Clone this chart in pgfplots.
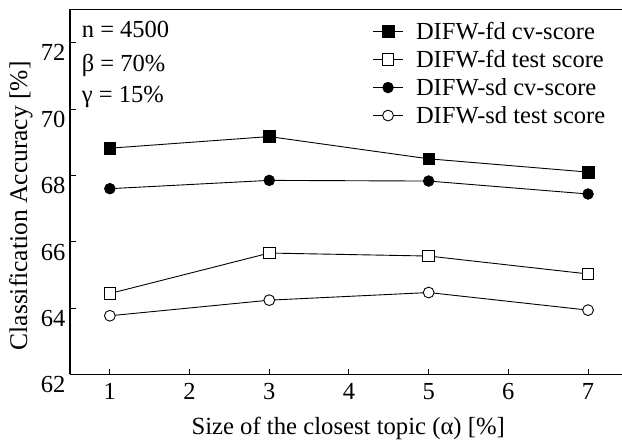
\documentclass[border=0pt]{standalone}
\usepackage{pgfplots}
\pgfplotsset{compat=1.18}
\usepackage{fontspec}
\setmainfont{Liberation Serif}
\begin{document}
\begin{tikzpicture}
\begin{axis}[
  scale only axis,
  width=552pt, height=365pt,
  xmin=0.5, xmax=7.426, ymin=62, ymax=73,
  axis lines=left,
  axis line style={-, line width=1.3pt},
  xtick={1,2,3,4,5,6,7},
  ytick={62,64,66,68,70,72},
  tick align=inside,
  major tick length=6pt,
  tick style={line width=1pt, black},
  ticklabel style={font=\fontsize{24.5}{28}\selectfont},
  /pgf/number format/assume math mode=true,
  yticklabel style={anchor=north east, xshift=-1pt, yshift=1.5pt},
  xticklabel style={yshift=-5pt},
  xlabel={Size of the closest topic (α) [\%]},
  ylabel={Classification Accuracy [\%]},
  xlabel style={font=\fontsize{24.7}{28}\selectfont, at={(axis description cs:0.504,-0.1466)}, anchor=center},
  ylabel style={font=\fontsize{25.5}{28}\selectfont, at={(axis description cs:-0.0888,0.462)}, anchor=center},
  legend style={draw=none, fill=none, font=\fontsize{24.5}{26}\selectfont,
    at={(axis description cs:0.546,0.975)}, anchor=north west,
    row sep=5.5pt, inner sep=1pt},
  legend cell align=left,
  legend image code/.code={\draw[line width=0.9pt,#1] (0pt,0pt) -- (30pt,0pt); \draw[#1, mark repeat=1] plot coordinates {(15pt,0pt)}; \path[draw=none, fill=none] (0pt,0pt) -- (41pt,0pt);},
  every axis plot/.append style={black, line width=0.9pt},
  clip=false,
]
\addplot[mark=square*, mark size=5.8pt, mark options={fill=black, line width=0.6pt}] coordinates {(1,68.82) (3,69.17) (5,68.50) (7,68.10)};
\addlegendentry{DIFW-fd cv-score}
\addplot[mark=square*, mark size=5.8pt, mark options={fill=white, line width=0.9pt}] coordinates {(1,64.44) (3,65.66) (5,65.57) (7,65.03)};
\addlegendentry{DIFW-fd test score}
\addplot[mark=*, mark size=5.4pt, mark options={fill=black, line width=0.6pt}] coordinates {(1,67.60) (3,67.85) (5,67.83) (7,67.44)};
\addlegendentry{DIFW-sd cv-score}
\addplot[mark=*, mark size=5.4pt, mark options={fill=white, line width=0.9pt}] coordinates {(1,63.77) (3,64.24) (5,64.47) (7,63.94)};
\addlegendentry{DIFW-sd test score}
\draw[line width=1.3pt] (rel axis cs:0,1) -- (rel axis cs:1,1);
\node[anchor=base west, font=\fontsize{24.5}{28}\selectfont, inner sep=0pt] at ([xshift=11.7pt,yshift=-28.2pt]rel axis cs:0,1) {n = 4500};
\node[anchor=base west, font=\fontsize{24.5}{28}\selectfont, inner sep=0pt] at ([xshift=11.7pt,yshift=-62pt]rel axis cs:0,1) {β = 70\%};
\node[anchor=base west, font=\fontsize{24.5}{28}\selectfont, inner sep=0pt] at ([xshift=11.7pt,yshift=-93.5pt]rel axis cs:0,1) {γ = 15\%};
\end{axis}
\pgfresetboundingbox
\path (current axis.south west) ++(-70pt,-67.5pt) rectangle ([yshift=9.5pt]current axis.north east);
\end{tikzpicture}
\end{document}
